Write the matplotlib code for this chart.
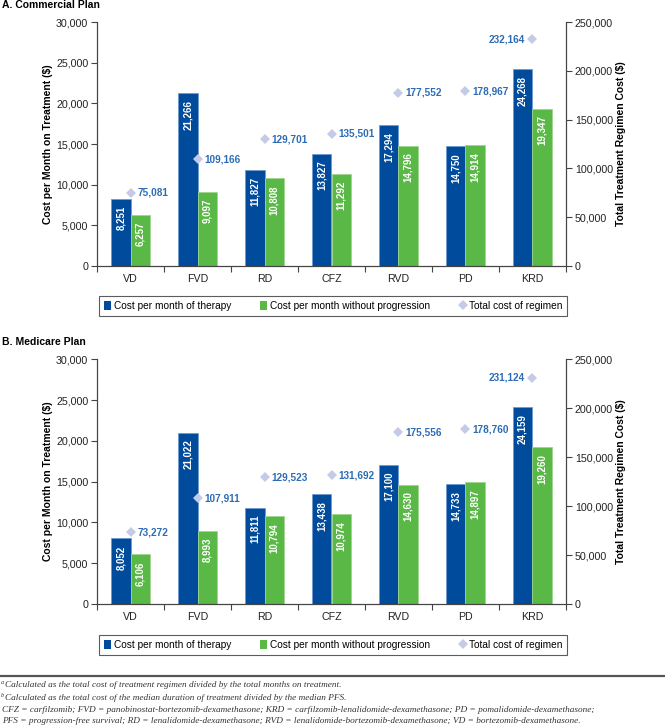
import matplotlib
matplotlib.use("Agg")
import matplotlib.pyplot as plt
from matplotlib.patches import Patch
from matplotlib.lines import Line2D
from matplotlib.ticker import FuncFormatter, FixedLocator
import numpy as np

# data
regimens = ["VD", "FVD", "RD", "CFZ", "RVD", "PD", "KRD"]

comm_month_therapy = [8251, 21266, 11827, 13827, 17294, 14750, 24268]
comm_month_no_prog = [6257, 9097, 10808, 11292, 14796, 14914, 19347]
comm_total_cost = [75081, 109166, 129701, 135501, 177552, 178967, 232164]

med_month_therapy = [8052, 21022, 11811, 13438, 17100, 14733, 24159]
med_month_no_prog = [6106, 8993, 10794, 10974, 14630, 14897, 19260]
med_total_cost = [73272, 107911, 129523, 131692, 175556, 178760, 231124]

BLUE = "#004B9B"
GREEN = "#5AB946"
DIAMOND = "#C5CAE6"
LABEL_BLUE = "#2D6CB5"
AXIS = "#444444"

plt.rcParams['font.family'] = ['Liberation Sans', 'DejaVu Sans']

W, H = 665, 726
fig = plt.figure(figsize=(W / 100, H / 100), dpi=100)

comma = FuncFormatter(lambda v, p: "{:,.0f}".format(v))


def px_box(left, top, right, bottom):
    return [left / W, 1 - bottom / H, (right - left) / W, (bottom - top) / H]


def box_top(box):
    return (1 - box[1] - box[3]) * H


def draw_panel(box, therapy, no_prog, total, title, title_y, legend_top):
    ax = fig.add_axes(box)
    ax2 = ax.twinx()
    x = np.arange(len(regimens))
    w = 0.29

    ax.bar(x - w / 2, therapy, w, color=BLUE, edgecolor="#6E9BD0", linewidth=0.6, zorder=2)
    ax.bar(x + w / 2, no_prog, w, color=GREEN, edgecolor="#9ED68F", linewidth=0.6, zorder=2)

    for xi, v in zip(x - w / 2, therapy):
        ax.annotate("{:,}".format(v), (xi, v), xytext=(0, -5), textcoords="offset points",
                    rotation=90, ha="center", va="top", color="white",
                    fontsize=7, fontweight="bold", zorder=3)
    for xi, v in zip(x + w / 2, no_prog):
        ax.annotate("{:,}".format(v), (xi, v), xytext=(0, -5), textcoords="offset points",
                    rotation=90, ha="center", va="top", color="white",
                    fontsize=7, fontweight="bold", zorder=3)

    ax2.plot(x, total, linestyle="none", marker="D", markersize=5,
             color=DIAMOND, markeredgewidth=0, zorder=4)
    for i, (xi, v) in enumerate(zip(x, total)):
        if i == len(x) - 1:
            ax2.annotate("{:,}".format(v), (xi, v), xytext=(-5, 0), textcoords="offset points",
                         ha="right", va="center", color=LABEL_BLUE, fontsize=7.2, fontweight="bold")
        else:
            ax2.annotate("{:,}".format(v), (xi, v), xytext=(5, 0), textcoords="offset points",
                         ha="left", va="center", color=LABEL_BLUE, fontsize=7.2, fontweight="bold")

    ax.set_xlim(-0.5, len(regimens) - 0.5)
    ax.set_ylim(0, 30000)
    ax2.set_ylim(0, 250000)
    ax.set_yticks(np.arange(0, 30001, 5000))
    ax2.set_yticks(np.arange(0, 250001, 50000))
    ax.yaxis.set_major_formatter(comma)
    ax2.yaxis.set_major_formatter(comma)

    ax.set_xticks(x)
    ax.set_xticklabels(regimens)
    ax.xaxis.set_minor_locator(FixedLocator(np.arange(-0.5, len(regimens), 1.0)))
    ax.tick_params(axis="x", which="major", length=0, pad=6, labelsize=7.7, colors="#222222")
    ax.tick_params(axis="x", which="minor", length=4.5, width=0.8, color=AXIS)
    ax.tick_params(axis="y", length=4.5, width=0.8, color=AXIS, labelsize=7.7, labelcolor="#222222", pad=2)
    ax2.tick_params(axis="y", length=4.5, width=0.8, color=AXIS, labelsize=7.7, labelcolor="#222222", pad=2)

    for a in (ax, ax2):
        a.spines["top"].set_visible(False)
        for s in ("left", "right", "bottom"):
            a.spines[s].set_color(AXIS)
            a.spines[s].set_linewidth(0.8)

    fig.text(48.3 / W, 1 - (box_top(box) + 122) / H, "Cost per Month on Treatment ($)",
             rotation=90, ha="center", va="center", fontsize=7.5, fontweight="bold")
    fig.text(620.7 / W, 1 - (box_top(box) + 122) / H, "Total Treatment Regimen Cost ($)",
             rotation=90, ha="center", va="center", fontsize=7.5, fontweight="bold")
    fig.text(2 / W, 1 - title_y / H, title, ha="left", va="center", fontsize=7.5, fontweight="bold")

    handles = [Patch(facecolor=BLUE, edgecolor="none"),
               Patch(facecolor=GREEN, edgecolor="none"),
               Line2D([], [], linestyle="none", marker="D", markersize=5,
                      color=DIAMOND, markeredgewidth=0)]
    labels = ["Cost per month of therapy", "Cost per month without progression",
              "Total cost of regimen"]
    leg_h = 18.3
    leg = fig.legend(handles, labels, loc="upper left",
                     bbox_to_anchor=(99.3 / W, 1 - (legend_top + leg_h) / H, 468 / W, leg_h / H),
                     mode="expand", ncol=3, fontsize=7.3, frameon=True, fancybox=False,
                     handlelength=0.7, handleheight=0.9, handletextpad=0.25,
                     borderpad=0.5, borderaxespad=0, columnspacing=1.2)
    leg.get_frame().set_edgecolor("#333333")
    leg.get_frame().set_linewidth(0.8)
    return ax


draw_panel(px_box(97.3, 22, 565.7, 266), comm_month_therapy, comm_month_no_prog,
           comm_total_cost, "A. Commercial Plan", 4.5, 296)
draw_panel(px_box(97.3, 359.3, 565.7, 604), med_month_therapy, med_month_no_prog,
           med_total_cost, "B. Medicare Plan", 341.7, 635)

# footnotes
fig.add_artist(Line2D([0, 1], [1 - 676 / H, 1 - 676 / H], color="#555555", linewidth=1.6))

notes = [
    ("a", "Calculated as the total cost of treatment regimen divided by the total months on treatment."),
    ("b", "Calculated as the total cost of the median duration of treatment divided by the median PFS."),
    ("", "CFZ = carfilzomib; FVD = panobinostat-bortezomib-dexamethasone; KRD = carfilzomib-lenalidomide-dexamethasone; PD = pomalidomide-dexamethasone;"),
    ("", "PFS = progression-free survival; RD = lenalidomide-dexamethasone; RVD = lenalidomide-bortezomib-dexamethasone; VD = bortezomib-dexamethasone."),
]
note_y = [685, 698, 710, 721]
for (sup, txt), y in zip(notes, note_y):
    x0 = 2
    if sup:
        fig.text(1 / W, 1 - (y - 2.5) / H, sup, ha="left", va="center", fontsize=4.5,
                 family="Liberation Serif", style="italic", color="#333333")
        x0 = 5
    fig.text(x0 / W, 1 - y / H, txt, ha="left", va="center", fontsize=6.7,
             family="Liberation Serif", style="italic", color="#333333")

fig.savefig("out.png", dpi=100)
